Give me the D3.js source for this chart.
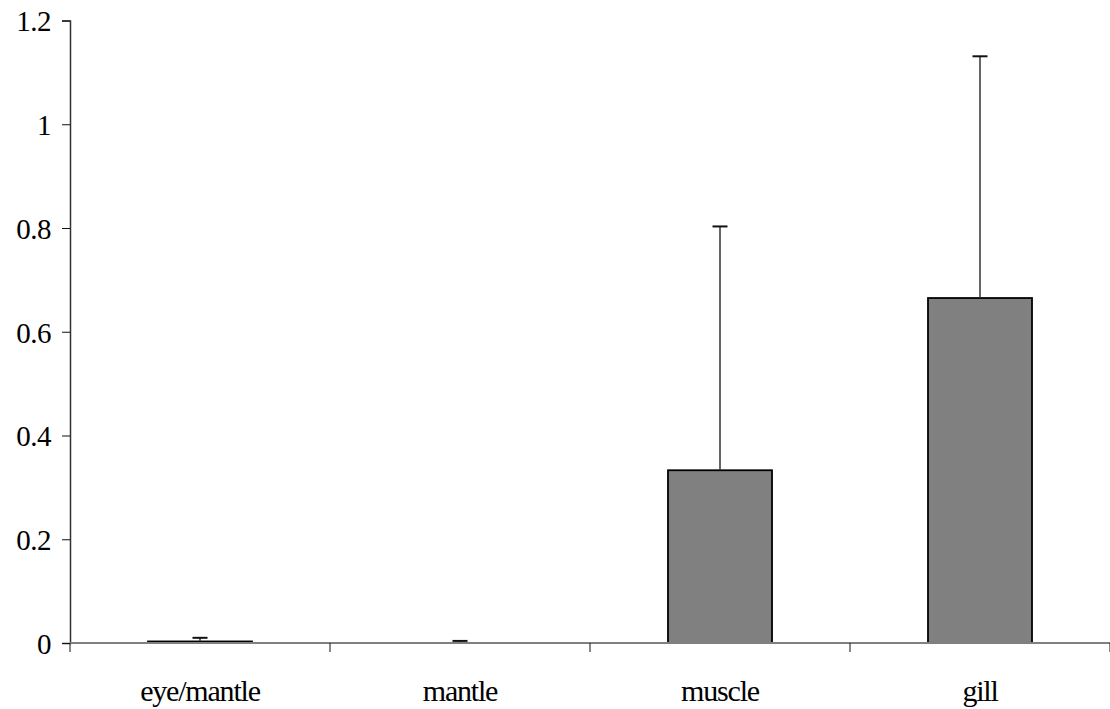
<!DOCTYPE html>
<html lang="en">
<head>
  <meta charset="UTF-8">
  <title>Tissue bar chart</title>
  <style>
    body { margin: 0; background: #fff; }
    text { font-family: "Liberation Serif", "Times New Roman", serif; }
  </style>
</head>
<body>
  <div id="chart"></div>
  <script src="https://d3js.org/d3.v7.min.js"></script>
  <script>
    // data
    var categories = ["eye/mantle", "mantle", "muscle", "gill"];
    var means = [0.003, 0.0, 0.333, 0.665];
    var errorTops = [0.010, 0.004, 0.803, 1.131];
    var yTicks = [0, 0.2, 0.4, 0.6, 0.8, 1, 1.2];

    var margin = {top: 20.5, right: 0, bottom: 66, left: 70},
      width = 1110 - margin.left - margin.right,
      height = 709 - margin.top - margin.bottom;

    var svg = d3.select("#chart")
      .append("svg")
      .attr("width", width + margin.left + margin.right)
      .attr("height", height + margin.top + margin.bottom)
      .append("g")
      .attr("transform", "translate(" + margin.left + "," + margin.top + ")");

    // category slots (ticks sit on their edges) and the bars inside them
    var slot = d3.scaleBand().domain(categories).range([0, width]).padding(0);
    var x = d3.scaleBand().domain(categories).range([0, width])
      .paddingInner(0.6).paddingOuter(0.3);
    var y = d3.scaleLinear().domain([0, 1.2]).range([height, 0]);

    var data = categories.map(function(c, i) {
      return {cat: c, mean: means[i], top: errorTops[i]};
    });

    // bars
    svg.selectAll(".bar")
      .data(data.filter(function(d) { return d.mean > 0; }))
      .enter()
      .append("rect")
      .attr("class", "bar")
      .attr("x", function(d) { return x(d.cat); })
      .attr("y", function(d) { return y(d.mean); })
      .attr("width", x.bandwidth())
      .attr("height", function(d) { return y(0) - y(d.mean); })
      .style("fill", "#808080")
      .style("stroke", "#000")
      .style("stroke-width", 1.8);

    // error bars (upper only)
    var cx = function(d) { return x(d.cat) + x.bandwidth() / 2; };
    svg.selectAll(".err")
      .data(data)
      .enter()
      .append("line")
      .attr("x1", cx).attr("x2", cx)
      .attr("y1", function(d) { return y(d.mean); })
      .attr("y2", function(d) { return y(d.top); })
      .style("stroke", "#333")
      .style("stroke-width", 1.5);
    svg.selectAll(".cap")
      .data(data)
      .enter()
      .append("line")
      .attr("x1", function(d) { return cx(d) - 7.5; })
      .attr("x2", function(d) { return cx(d) + 7.5; })
      .attr("y1", function(d) { return y(d.top); })
      .attr("y2", function(d) { return y(d.top); })
      .style("stroke", "#111")
      .style("stroke-width", 2);

    // y axis
    var yAxis = svg.append("g")
      .call(d3.axisLeft(y)
        .tickValues(yTicks)
        .tickSize(8)
        .tickPadding(11)
        .tickFormat(function(d) { return String(+d.toFixed(1)); }));
    yAxis.select(".domain").attr("stroke", "#333").attr("stroke-width", 1.5);
    yAxis.selectAll(".tick line").attr("stroke", "#111");
    yAxis.selectAll(".tick text")
      .style("font-size", "29px")
      .style("letter-spacing", "-0.5px")
      .attr("fill", "#000")
      .attr("dy", "0.36em");

    // x axis: gray base line, ticks on slot edges, labels centred
    svg.append("line")
      .attr("x1", 0).attr("x2", width)
      .attr("y1", y(0)).attr("y2", y(0))
      .style("stroke", "#808080")
      .style("stroke-width", 2);
    var edges = categories.map(function(c) { return slot(c); }).concat([width]);
    svg.selectAll(".xtick")
      .data(edges)
      .enter()
      .append("line")
      .attr("x1", function(d) { return d; })
      .attr("x2", function(d) { return d; })
      .attr("y1", y(0))
      .attr("y2", y(0) + 9)
      .style("stroke", "#111");
    svg.selectAll(".xlabel")
      .data(categories)
      .enter()
      .append("text")
      .attr("x", function(d) { return slot(d) + slot.bandwidth() / 2; })
      .attr("y", height + 58)
      .attr("text-anchor", "middle")
      .style("font-size", "30px")
      .style("letter-spacing", "-1.2px")
      .attr("fill", "#000")
      .text(function(d) { return d; });
  </script>
</body>
</html>
